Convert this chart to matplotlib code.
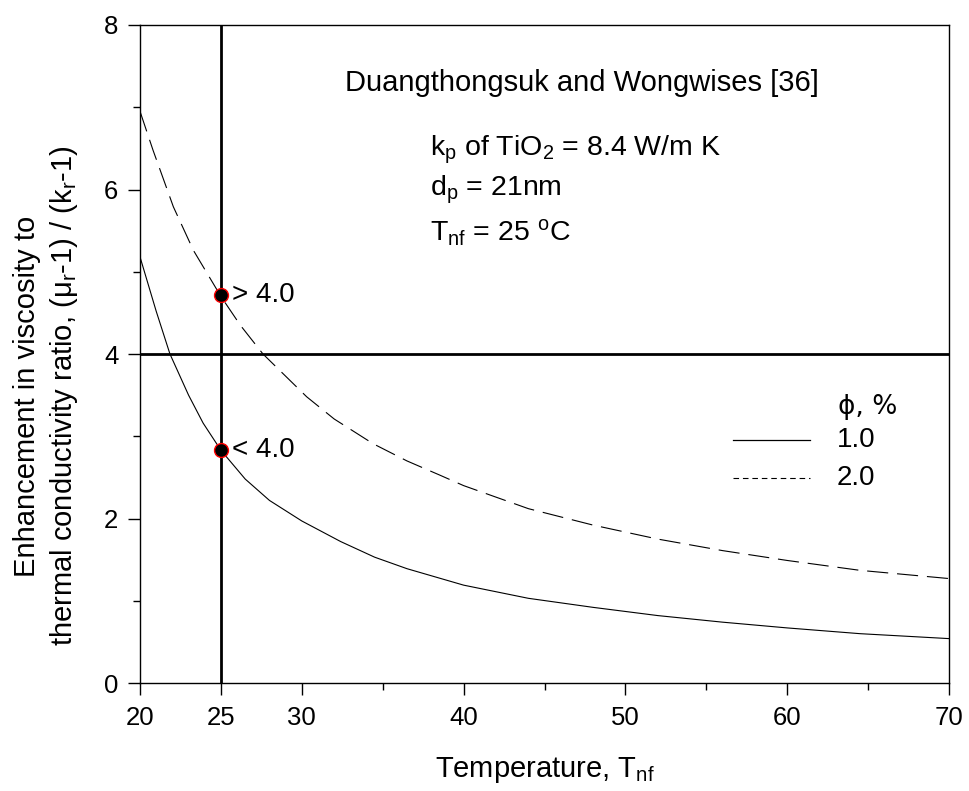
import matplotlib
matplotlib.use("Agg")
import matplotlib.pyplot as plt
from matplotlib.ticker import FixedLocator

plt.rcParams['font.family'] = ['Liberation Sans', 'DejaVu Sans']
plt.rcParams['mathtext.fontset'] = 'custom'
plt.rcParams['mathtext.rm'] = 'Liberation Sans'
plt.rcParams['mathtext.it'] = 'Liberation Sans'
plt.rcParams['mathtext.default'] = 'regular'

# Data (phi = 1.0 % and 2.0 %)
temp_1 = [20, 21, 21.85, 23, 23.9, 25, 26.5, 28, 30, 32.4, 34.5, 36.5, 40, 44, 48, 52, 56, 60, 64.5, 70]
ratio_1 = [5.18, 4.52, 4.0, 3.5, 3.16, 2.83, 2.48, 2.22, 1.97, 1.72, 1.53, 1.39, 1.19, 1.03, 0.92, 0.82, 0.74, 0.67, 0.60, 0.54]
temp_2 = [20, 20.8, 22.06, 23.3, 25, 26.2, 27.6, 30.3, 32, 34.4, 36.5, 38.5, 40, 44, 48, 52, 56, 60, 64.5, 70]
ratio_2 = [6.95, 6.48, 5.79, 5.26, 4.70, 4.35, 4.0, 3.48, 3.21, 2.91, 2.70, 2.53, 2.40, 2.12, 1.92, 1.75, 1.61, 1.49, 1.37, 1.27]
marker_x = [25, 25]
marker_y = [4.72, 2.83]
marker_labels = ["> 4.0", "< 4.0"]
x_major = [20, 25, 30, 40, 50, 60, 70]
x_minor = [35, 45, 55, 65]
y_major = [0, 2, 4, 6, 8]
y_minor = [1, 3, 5, 7]

fig = plt.figure(figsize=(9.69, 7.91), dpi=100)
ax = fig.add_axes([0.1445, 0.1365, 0.9794 - 0.1445, 0.9684 - 0.1365])

ax.plot(temp_1, ratio_1, color='black', lw=0.8)
ax.plot(temp_2, ratio_2, color='black', lw=0.8, dashes=(19, 8))

ax.axvline(25, color='black', lw=2.0)
ax.axhline(4, color='black', lw=2.0)

ax.plot(marker_x, marker_y, 'o', ms=10, mfc='black', mec='red', mew=1.0, zorder=5)
for mx, my, lab in zip(marker_x, marker_y, marker_labels):
    ax.text(mx + 0.7, my, lab, fontsize=20, va='center', ha='left')

ax.set_xlim(20, 70)
ax.set_ylim(0, 8)
ax.xaxis.set_major_locator(FixedLocator(x_major))
ax.xaxis.set_minor_locator(FixedLocator(x_minor))
ax.yaxis.set_major_locator(FixedLocator(y_major))
ax.yaxis.set_minor_locator(FixedLocator(y_minor))
ax.tick_params(which='both', direction='out', top=False, right=False, labelsize=18.5, width=1)
ax.tick_params(which='major', length=8.6)
ax.tick_params(axis='y', which='major', pad=7)
ax.tick_params(axis='x', which='major', pad=8)
ax.tick_params(which='minor', length=5)
for s in ax.spines.values():
    s.set_linewidth(1.0)

ax.set_xlabel(r"Temperature, T$_{\mathregular{nf}}$", fontsize=21, labelpad=18)
ax.set_ylabel("Enhancement in viscosity to\n" + r"thermal conductivity ratio, ($\mu_{\mathregular{r}}$-1) / (k$_{\mathregular{r}}$-1)",
              fontsize=21, linespacing=1.3)
ax.yaxis.set_label_coords(-0.074, 0.436)

ax.text(0.546, 0.912, "Duangthongsuk and Wongwises [36]", transform=ax.transAxes, fontsize=21, ha='center', va='center')
ax.text(0.358, 0.81, r"k$_{\mathregular{p}}$ of TiO$_{\mathregular{2}}$ = 8.4 W/m K", transform=ax.transAxes, fontsize=20.5, ha='left', va='center')
ax.text(0.358, 0.749, r"d$_{\mathregular{p}}$ = 21nm", transform=ax.transAxes, fontsize=20.5, ha='left', va='center')
ax.text(0.358, 0.685, r"T$_{\mathregular{nf}}$ = 25 $^{\mathregular{o}}$C", transform=ax.transAxes, fontsize=20.5, ha='left', va='center')

# legend
ax.text(0.863, 0.419, "ϕ, %", transform=ax.transAxes, fontsize=19, ha='left', va='center', family=['DejaVu Sans'])
ax.plot([0.733, 0.828], [0.369, 0.369], transform=ax.transAxes, color='black', lw=0.9)
ax.plot([0.733, 0.828], [0.312, 0.312], transform=ax.transAxes, color='black', lw=0.8, dashes=(5, 3.5))
ax.text(0.861, 0.369, "1.0", transform=ax.transAxes, fontsize=20, ha='left', va='center')
ax.text(0.861, 0.312, "2.0", transform=ax.transAxes, fontsize=20, ha='left', va='center')

fig.savefig("out.png", dpi=100)
